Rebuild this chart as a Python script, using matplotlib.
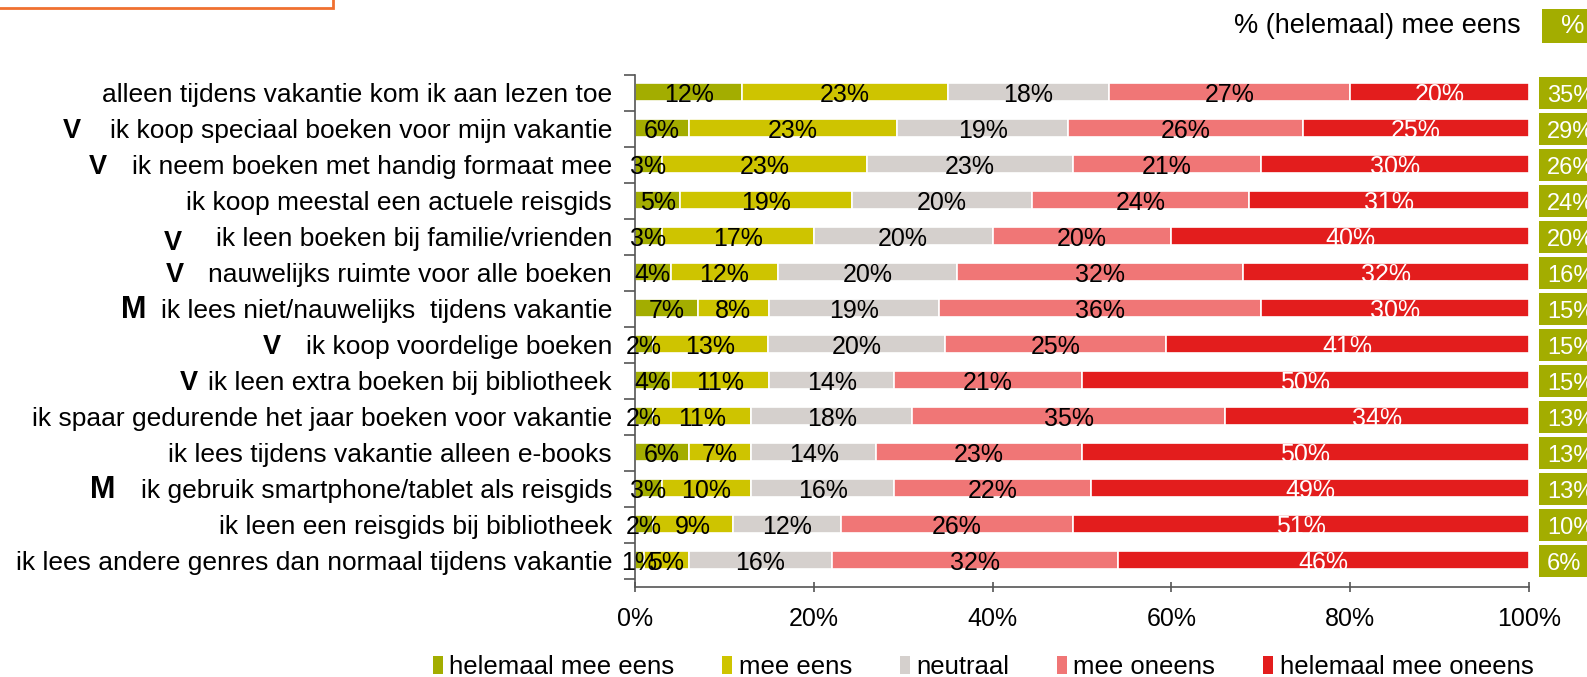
import matplotlib
matplotlib.use('Agg')
import matplotlib.pyplot as plt
import matplotlib.patches as mp
import matplotlib.transforms as mt
import numpy as np

W, H, DPI = 1587, 677, 100

plt.rcParams['font.family'] = ['Liberation Sans', 'DejaVu Sans']

# ─── DATA ─────────────────────────────────────────────────────────────────
STATEMENTS = [
    'alleen tijdens vakantie kom ik aan lezen toe',
    'ik koop speciaal boeken voor mijn vakantie',
    'ik neem boeken met handig formaat mee',
    'ik koop meestal een actuele reisgids',
    'ik leen boeken bij familie/vrienden',
    'nauwelijks ruimte voor alle boeken',
    'ik lees niet/nauwelijks  tijdens vakantie',
    'ik koop voordelige boeken',
    'ik leen extra boeken bij bibliotheek',
    'ik spaar gedurende het jaar boeken voor vakantie',
    'ik lees tijdens vakantie alleen e-books',
    'ik gebruik smartphone/tablet als reisgids',
    'ik leen een reisgids bij bibliotheek',
    'ik lees andere genres dan normaal tijdens vakantie',
]
MARKS = ['', 'V', 'V', '', 'V', 'V', 'M', 'V', 'V', '', '', 'M', '', '']

CATEGORIES = ['helemaal mee eens', 'mee eens', 'neutraal', 'mee oneens',
              'helemaal mee oneens']
HELEMAAL_EENS = [12, 6, 3, 5, 3, 4, 7, 2, 4, 2, 6, 3, 2, 1]
MEE_EENS      = [23, 23, 23, 19, 17, 12, 8, 13, 11, 11, 7, 10, 9, 5]
NEUTRAAL      = [18, 19, 23, 20, 20, 20, 19, 20, 14, 18, 14, 16, 12, 16]
MEE_ONEENS    = [27, 26, 21, 24, 20, 32, 36, 25, 21, 35, 23, 22, 26, 32]
HELEMAAL_ONEENS = [20, 25, 30, 31, 40, 32, 30, 41, 50, 34, 50, 49, 51, 46]
TOTAAL_EENS   = [35, 29, 26, 24, 20, 16, 15, 15, 15, 13, 13, 13, 10, 6]

COLORS = ['#A3AD00', '#CEC400', '#D5D0CD', '#F07676', '#E31D1D']
TXT_COLORS = ['black', 'black', 'black', 'black', 'white']
GREEN = '#A3AD00'

# left x (px) of the V / M markers
MARK_X = {1: 63, 2: 89, 4: 164, 5: 166, 6: 121, 7: 263, 8: 180, 11: 90}

# ─── FIGURE ───────────────────────────────────────────────────────────────
fig = plt.figure(figsize=(W / DPI, H / DPI), dpi=DPI)
fig.patch.set_facecolor('white')

ax_l, ax_r, ax_t, ax_b = 635, 1529, 75, 587
ax = fig.add_axes([ax_l / W, 1 - ax_b / H, (ax_r - ax_l) / W, (ax_b - ax_t) / H])

series = np.array([HELEMAAL_EENS, MEE_EENS, NEUTRAAL, MEE_ONEENS, HELEMAAL_ONEENS],
                  dtype=float)
shares = series / series.sum(axis=0) * 100
n = len(STATEMENTS)
ys = np.arange(n)
BH = 0.5
BASE = 0.24   # baseline offset of the texts below row centre

left = np.zeros(n)
for k in range(5):
    bars = ax.barh(ys - 0.04, shares[k], left=left, height=BH, color=COLORS[k],
                   edgecolor='white', lw=1.2, label=CATEGORIES[k], zorder=2)
    for i, b in enumerate(bars):
        t = ax.text(left[i] + shares[k][i] / 2, ys[i] + BASE,
                    f'{series[k][i]:.0f}%', ha='center', va='baseline',
                    fontsize=18, color=TXT_COLORS[k], zorder=4)
        if TXT_COLORS[k] == 'white':
            t.set_clip_path(b)
    left += shares[k]

ax.set_xlim(0, 100)
ax.set_ylim(n - 0.5 + 8 / 36, -0.5)
ax.set_xticks(np.arange(0, 101, 20))
ax.set_xticklabels([f'{v}%' for v in range(0, 101, 20)], fontsize=18)
ax.set_yticks(np.arange(-0.5, n, 1))
ax.set_yticklabels([])
ax.tick_params(axis='y', length=8, width=1.2, color='#555555')
ax.tick_params(axis='x', length=7, width=1.2, color='#555555', direction='inout',
               pad=11)
for s in ('top', 'right'):
    ax.spines[s].set_visible(False)
for s in ('left', 'bottom'):
    ax.spines[s].set_color('#555555')
    ax.spines[s].set_linewidth(1.2)

# statements + V / M markers
btr = mt.blended_transform_factory(fig.transFigure, ax.transData)
for i, s in enumerate(STATEMENTS):
    ax.text(612 / W, ys[i] + BASE, s, transform=btr, ha='right', va='baseline',
            fontsize=19, clip_on=False)
    if MARKS[i]:
        dy = 0.11 if i == 4 else 0.0
        ax.text(MARK_X[i] / W, ys[i] + BASE + dy, MARKS[i], transform=btr,
                ha='left', va='baseline', fontsize=19.5 if MARKS[i] == 'V' else 22,
                fontweight='bold', clip_on=False)

# totals (helemaal) mee eens at the right
rtr = mt.blended_transform_factory(ax.transAxes, ax.transData)
bx = (1539 - ax_l) / (ax_r - ax_l)
for i, v in enumerate(TOTAAL_EENS):
    ax.add_patch(mp.Rectangle((bx, ys[i] - 0.44), 0.1, 0.88, transform=rtr,
                              fc=GREEN, ec='none', clip_on=False))
    ax.text(bx + 0.009, ys[i] + 0.24, f'{v}%', transform=rtr, ha='left',
            va='baseline', fontsize=17, color='white', clip_on=False)

# header top-right
fig.patches.append(mp.Rectangle((1542 / W, 1 - 43 / H), 60 / W, 34 / H,
                                transform=fig.transFigure, fc=GREEN, ec='none'))
fig.text(1561 / W, 1 - 26 / H, '%', ha='left', va='center', fontsize=19,
         color='white')
fig.text(1521 / W, 1 - 26 / H, '% (helemaal) mee eens', ha='right', va='center',
         fontsize=19.5)

# orange frame fragment top-left
fig.patches.append(mp.Rectangle((-10 / W, 1 - 8 / H), 343 / W, 40 / H,
                                transform=fig.transFigure, fc='none',
                                ec='#F07030', lw=2))

# legend
handles = [mp.Patch(fc=c, ec='none') for c in COLORS]
fig.legend(handles, CATEGORIES, loc='center', ncol=5, frameon=False,
           bbox_to_anchor=(983 / W, 1 - 667 / H), fontsize=18.5,
           handlelength=0.4, handleheight=0.7, handletextpad=0.25,
           columnspacing=1.85, borderpad=0)

fig.savefig('out.png', dpi=DPI, facecolor='white')
